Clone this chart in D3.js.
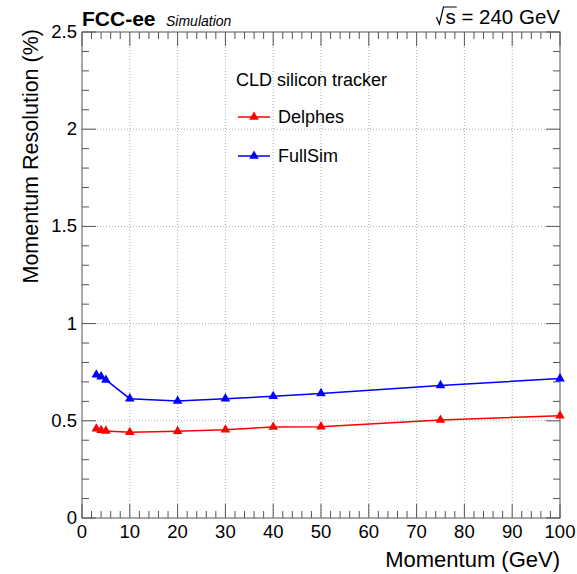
<!DOCTYPE html>
<html><head><meta charset="utf-8">
<script src="https://cdn.jsdelivr.net/npm/d3@7"></script>
<style>body{margin:0;background:#fff}svg{display:block;font-family:"Liberation Sans",Arial,sans-serif}</style>
</head><body>
<svg id="c" width="577" height="574"></svg>
<script>
const momentum = [3, 4, 5, 10, 20, 30, 40, 50, 75, 100];
const delphes = [0.459, 0.451, 0.448, 0.441, 0.446, 0.454, 0.468, 0.470, 0.504, 0.526];
const fullsim = [0.737, 0.727, 0.710, 0.614, 0.602, 0.614, 0.626, 0.641, 0.682, 0.717];
const xTicks = [0,10,20,30,40,50,60,70,80,90,100];
const yTicks = [0,0.5,1,1.5,2,2.5];
const yTickLabels = ["0","0.5","1","1.5","2","2.5"];
const seriesNames = ["Delphes","FullSim"];
const seriesColors = ["#ff0000","#0000ff"];

const svg = d3.select("#c");
const L=82,R=560,T=32,B=518;
const x = d3.scaleLinear().domain([0,100]).range([L,R]);
const y = d3.scaleLinear().domain([0,2.5]).range([B,T]);

// grid
const g = svg.append("g");
g.selectAll(".gx").data(xTicks.filter(v=>v>0&&v<100)).join("line")
 .attr("x1",d=>x(d)).attr("x2",d=>x(d)).attr("y1",T).attr("y2",B)
 .attr("stroke","#aaa").attr("stroke-width",1).attr("stroke-dasharray","1,2");
g.selectAll(".gy").data(yTicks.filter(v=>v>0&&v<2.5)).join("line")
 .attr("y1",d=>y(d)).attr("y2",d=>y(d)).attr("x1",L).attr("x2",R)
 .attr("stroke","#aaa").attr("stroke-width",1).attr("stroke-dasharray","1,2");

// frame
svg.append("rect").attr("x",L).attr("y",T).attr("width",R-L).attr("height",B-T)
 .attr("fill","none").attr("stroke","#555").attr("stroke-width",1);

// ticks
const xMinor = d3.range(0,101,2);
const yMinor = d3.range(0,26,1).map(v=>v/10);
const tk = svg.append("g").attr("stroke","#555").attr("stroke-width",1);
xMinor.forEach(v=>{
  const len = (v%10===0)?14:7;
  tk.append("line").attr("x1",x(v)).attr("x2",x(v)).attr("y1",B).attr("y2",B-len);
  tk.append("line").attr("x1",x(v)).attr("x2",x(v)).attr("y1",T).attr("y2",T+len);
});
yMinor.forEach(v=>{
  const major = Math.abs(v*2-Math.round(v*2))<1e-6;
  const len = major?14:7;
  tk.append("line").attr("y1",y(v)).attr("y2",y(v)).attr("x1",L).attr("x2",L+len);
  tk.append("line").attr("y1",y(v)).attr("y2",y(v)).attr("x1",R).attr("x2",R-len);
});

// tick labels
svg.append("g").selectAll("text").data(xTicks).join("text")
 .attr("x",d=>x(d)).attr("y",538).attr("text-anchor","middle")
 .attr("font-size",18.5).text(d=>d);
svg.append("g").selectAll("text").data(yTicks).join("text")
 .attr("x",77).attr("y",d=>y(d)+6).attr("text-anchor","end")
 .attr("font-size",18.5).text((d,i)=>yTickLabels[i]);

// axis titles
svg.append("text").attr("x",R).attr("y",567).attr("text-anchor","end")
 .attr("font-size",22).text("Momentum (GeV)");
svg.append("text").attr("transform",`translate(38,${T-3}) rotate(-90)`).attr("text-anchor","end")
 .attr("font-size",21.5).text("Momentum Resolution (%)");

// header
svg.append("text").attr("x",L).attr("y",26).attr("font-size",21).attr("font-weight","bold").text("FCC-ee");
svg.append("text").attr("x",166).attr("y",26).attr("font-size",14).attr("font-style","italic").text("Simulation");
const hs = svg.append("text").attr("x",R).attr("y",24).attr("text-anchor","end").attr("font-size",20.5)
  .text("s = 240 GeV");
const hb = hs.node().getBBox();
const sW = hs.node().getSubStringLength(0,1);
const sx = hb.x;
svg.append("path")
 .attr("d",`M${sx-9},${24-7} L${sx-6},${24} L${sx-2},${7} L${sx+sW+1},${7}`)
 .attr("fill","none").attr("stroke","#000").attr("stroke-width",1.2);

// series
const tri = d3.symbol().type(d3.symbolTriangle).size(40);
[delphes,fullsim].forEach((vals,si)=>{
  const data = momentum.map((m,i)=>[m,vals[i]]);
  svg.append("path").datum(data)
   .attr("d",d3.line().x(d=>x(d[0])).y(d=>y(d[1])))
   .attr("fill","none").attr("stroke",seriesColors[si]).attr("stroke-width",1.5);
  svg.append("g").selectAll("path").data(data).join("path")
   .attr("d",tri).attr("transform",d=>`translate(${x(d[0])},${y(d[1])})`)
   .attr("fill",seriesColors[si]);
});

// legend
svg.append("text").attr("x",236).attr("y",86).attr("font-size",18).text("CLD silicon tracker");
seriesNames.forEach((n,i)=>{
  const yy = 117 + i*39;
  svg.append("line").attr("x1",238).attr("x2",270).attr("y1",yy).attr("y2",yy)
   .attr("stroke",seriesColors[i]).attr("stroke-width",1.5);
  svg.append("path").attr("d",tri).attr("transform",`translate(254,${yy})`).attr("fill",seriesColors[i]);
  svg.append("text").attr("x",278).attr("y",yy+6).attr("font-size",18).text(n);
});
</script>
</body></html>
